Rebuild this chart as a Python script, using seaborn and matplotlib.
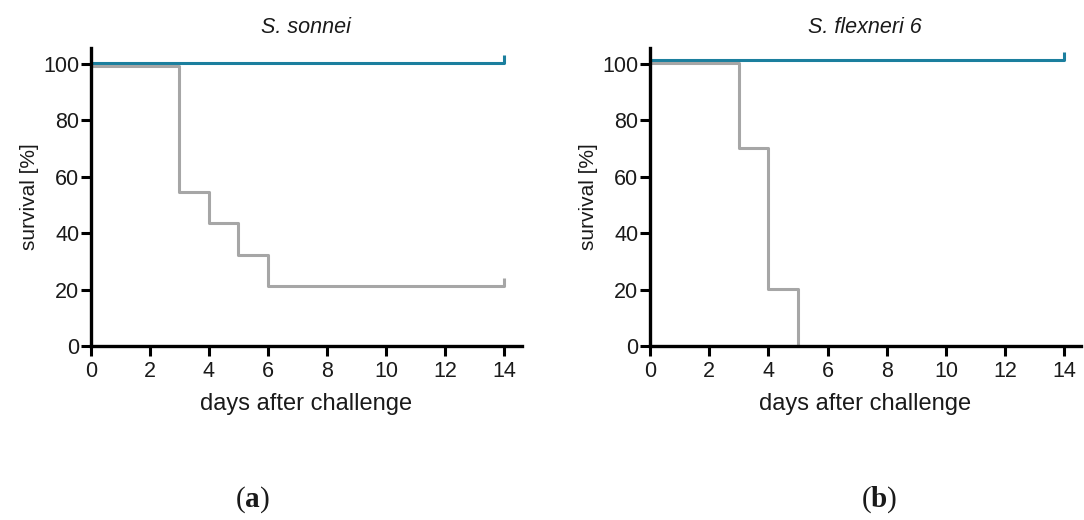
import matplotlib
matplotlib.use("Agg")
import matplotlib.pyplot as plt
import seaborn as sns

# Kaplan-Meier style survival curves (step values)
sonnei_ctrl_days = [0, 14]
sonnei_ctrl_surv = [100.3, 100.3]
sonnei_mock_days = [0, 3, 4, 5, 6, 14]
sonnei_mock_surv = [99.3, 54.7, 43.5, 32.3, 21.3, 21.3]

flex_ctrl_days = [0, 14]
flex_ctrl_surv = [101.4, 101.4]
flex_mock_days = [0, 3, 4, 5]
flex_mock_surv = [100.3, 70.3, 20.1, 0]

titles = ["S. sonnei", "S. flexneri 6"]
panel_letters = ["a", "b"]
x_ticks = [0, 2, 4, 6, 8, 10, 12, 14]
y_ticks = [0, 20, 40, 60, 80, 100]

BLUE = "#1b7f9e"
GREY = "#a6a6a6"
INK = "#1a1a1a"
FONT = ["Liberation Sans", "DejaVu Sans"]

sns.set_theme(style="ticks")
plt.rcParams["font.family"] = FONT
plt.rcParams["text.color"] = INK
plt.rcParams["axes.labelcolor"] = INK
plt.rcParams["xtick.color"] = INK
plt.rcParams["ytick.color"] = INK
plt.rcParams["mathtext.fontset"] = "custom"
plt.rcParams["mathtext.bf"] = "Liberation Serif:bold"
plt.rcParams["mathtext.rm"] = "Liberation Serif"


def draw_curve(ax, days, surv, color, censored):
    sns.lineplot(x=days, y=surv, ax=ax, color=color, lw=2.2,
                 drawstyle="steps-post", estimator=None, clip_on=False)
    if censored:
        # small censor tick at end of follow-up
        ax.vlines(days[-1], surv[-1], surv[-1] + 3, color=color, lw=2.2,
                  clip_on=False)


fig = plt.figure(figsize=(10.84, 5.2), dpi=100)
ax_a = fig.add_axes([0.0839, 0.3346, 0.3973, 0.573])
ax_b = fig.add_axes([0.5996, 0.3346, 0.3973, 0.573])

draw_curve(ax_a, sonnei_ctrl_days, sonnei_ctrl_surv, BLUE, True)
draw_curve(ax_a, sonnei_mock_days, sonnei_mock_surv, GREY, True)
draw_curve(ax_b, flex_ctrl_days, flex_ctrl_surv, BLUE, True)
draw_curve(ax_b, flex_mock_days, flex_mock_surv, GREY, False)

for ax, title, xmax in zip([ax_a, ax_b], titles, [14.6, 14.55]):
    ax.set_xlim(0, xmax)
    ax.set_ylim(0, 105.7)
    ax.set_xticks(x_ticks)
    ax.set_yticks(y_ticks)
    ax.tick_params(direction="out", length=7, width=2.2, labelsize=15.5,
                   color="black")
    ax.tick_params(axis="x", pad=4)
    ax.tick_params(axis="y", pad=1.5)
    for side in ["left", "bottom"]:
        ax.spines[side].set_linewidth(2.4)
        ax.spines[side].set_color("black")
    sns.despine(ax=ax)
    ax.set_title(title, fontsize=15.5, style="italic", pad=11)
    ax.set_xlabel("days after challenge", fontsize=17, labelpad=8)
    ax.set_ylabel("survival [%]", fontsize=15, labelpad=3)

for letter, xc in zip(panel_letters, [0.2325, 0.811]):
    fig.text(xc, 0.04, "($\\mathbf{%s}$)" % letter, ha="center",
             va="center", fontsize=21, family="Liberation Serif")

fig.savefig("out.png", dpi=100, facecolor="white")
